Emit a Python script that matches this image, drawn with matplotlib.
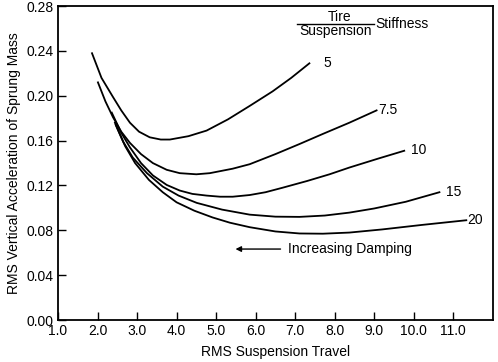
import matplotlib
matplotlib.use("Agg")
import matplotlib.pyplot as plt

plt.rcParams['font.family'] = ['Liberation Sans', 'DejaVu Sans']

# curves: (suspension travel, rms acceleration)
x5 = [1.86, 2.1, 2.39, 2.6, 2.82, 3.05, 3.32, 3.6, 3.83, 4.3, 4.76, 5.3, 5.85, 6.43, 6.9, 7.36]
y5 = [0.238, 0.216, 0.199, 0.187, 0.176, 0.168, 0.163, 0.161, 0.161, 0.164, 0.169, 0.179, 0.191, 0.204, 0.216, 0.229]

x75 = [2.01, 2.2, 2.39, 2.6, 2.82, 3.1, 3.40, 3.75, 4.08, 4.5, 4.84, 5.42, 5.85, 6.5, 7.11, 7.7, 8.37, 9.06]
y75 = [0.212, 0.195, 0.181, 0.168, 0.158, 0.148, 0.140, 0.134, 0.131, 0.130, 0.131, 0.135, 0.139, 0.148, 0.157, 0.166, 0.176, 0.187]

x10 = [2.36, 2.6, 2.82, 3.1, 3.40, 3.75, 4.08, 4.4, 4.76, 5.1, 5.42, 5.85, 6.25, 6.68, 7.3, 7.87, 8.37, 9.1, 9.76]
y10 = [0.185, 0.167, 0.154, 0.140, 0.129, 0.1205, 0.1155, 0.1125, 0.111, 0.110, 0.110, 0.1115, 0.114, 0.118, 0.124, 0.130, 0.136, 0.144, 0.151]

x15 = [2.44, 2.65, 2.89, 3.25, 3.65, 4.05, 4.51, 5.15, 5.85, 6.5, 7.11, 7.75, 8.37, 9.0, 9.8, 10.65]
y15 = [0.176, 0.159, 0.145, 0.131, 0.119, 0.111, 0.1045, 0.0985, 0.094, 0.0922, 0.092, 0.0932, 0.0958, 0.0995, 0.1055, 0.114]

x20 = [2.46, 2.7, 2.95, 3.3, 3.65, 4.0, 4.45, 4.91, 5.35, 5.85, 6.5, 7.11, 7.7, 8.37, 9.2, 10.2, 11.33]
y20 = [0.174, 0.155, 0.140, 0.125, 0.114, 0.105, 0.0975, 0.0915, 0.0868, 0.0828, 0.0790, 0.0772, 0.0770, 0.0780, 0.0808, 0.0848, 0.089]

curves = [(x5, y5, "5"), (x75, y75, "7.5"), (x10, y10, "10"), (x15, y15, "15"), (x20, y20, "20")]
label_pos = [(7.72, 0.229), (9.1, 0.187), (9.94, 0.152), (10.82, 0.114), (11.35, 0.089)]

xticks = [1, 2, 3, 4, 5, 6, 7, 8, 9, 10, 11]
yticks = [0.00, 0.04, 0.08, 0.12, 0.16, 0.20, 0.24, 0.28]

fs = 10

fig = plt.figure(figsize=(4.98, 3.62), dpi=100)
ax = fig.add_axes([0.1165, 0.116, 0.873, 0.867])

for (xs, ys, name), (lx, ly) in zip(curves, label_pos):
    ax.plot(xs, ys, color='black', lw=1.3)
    ax.text(lx, ly, name, fontsize=fs, ha='left', va='center')

# tire/suspension stiffness header
ax.text(8.12, 0.2705, "Tire", fontsize=fs, ha='center', va='center')
ax.plot([7.04, 9.0], [0.2645, 0.2645], color='black', lw=1.0)
ax.text(8.02, 0.2575, "Suspension", fontsize=fs, ha='center', va='center')
ax.text(9.02, 0.2645, "Stiffness", fontsize=fs, ha='left', va='center')

# arrow
ax.annotate("", xy=(5.42, 0.0633), xytext=(6.7, 0.0633),
            arrowprops=dict(arrowstyle='-|>', color='black', lw=1.0, mutation_scale=8))
ax.text(6.83, 0.0633, "Increasing Damping", fontsize=fs, ha='left', va='center')

ax.set_xlim(1, 12)
ax.set_ylim(0, 0.28)
ax.set_xticks(xticks)
ax.set_xticklabels(["%.1f" % v for v in xticks])
ax.set_yticks(yticks)
ax.set_yticklabels(["%.2f" % v for v in yticks])
ax.tick_params(direction='in', length=5.5, width=1.0, labelsize=fs, pad=3)
for s in ax.spines.values():
    s.set_linewidth(1.3)

ax.set_xlabel("RMS Suspension Travel", fontsize=fs, labelpad=5)
ax.set_ylabel("RMS Vertical Acceleration of Sprung Mass", fontsize=fs, labelpad=4)

fig.savefig("out.png", dpi=100)
